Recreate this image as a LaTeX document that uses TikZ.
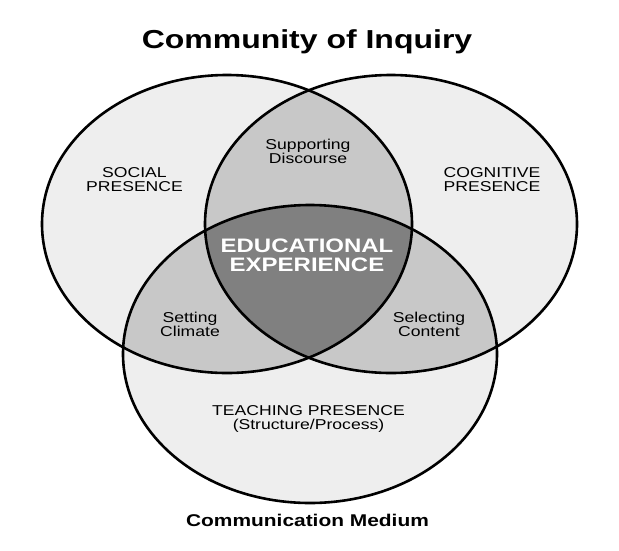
\documentclass[tikz,border=0pt]{standalone}
\usepackage{fontspec}
\setmainfont{Liberation Sans}[FakeStretch=1.23]
\definecolor{lightg}{HTML}{EEEEEE}
\definecolor{midg}{HTML}{C8C8C8}
\definecolor{darkg}{HTML}{808080}
\begin{document}
\begin{tikzpicture}[x=1pt,y=-1pt,
  lbl/.style={inner sep=0pt, align=center, font=\fontsize{14.3}{14}\selectfont},
  heavy/.style={inner sep=0pt, align=center, font=\fontsize{17}{20}\selectfont\bfseries},
  outline/.style={draw=black, line width=2.6pt}]
\useasboundingbox[fill=white] (0,0) rectangle (619,550);
\def\soc{(227,224) ellipse [x radius=185pt, y radius=149pt]}
\def\cog{(391,224) ellipse [x radius=186pt, y radius=149pt]}
\def\tea{(310,354) ellipse [x radius=187pt, y radius=149pt]}
% base fills
\fill[lightg] \soc;
\fill[lightg] \cog;
\fill[lightg] \tea;
% pairwise overlaps
\begin{scope}\clip \soc; \fill[midg] \cog; \fill[midg] \tea;\end{scope}
\begin{scope}\clip \cog; \fill[midg] \tea;\end{scope}
% triple overlap
\begin{scope}\clip \soc; \clip \cog; \fill[darkg] \tea;\end{scope}
% outlines
\draw[outline] \soc;
\draw[outline] \cog;
\draw[outline] \tea;
% texts
\node[inner sep=0pt, font=\fontsize{26}{30}\selectfont\bfseries] (title) at (307,42) {Community of Inquiry};
\node[lbl] (social) at (134.5,180) {SOCIAL\\PRESENCE};
\node[lbl] (cognitive) at (492,180) {COGNITIVE\\PRESENCE};
\node[lbl] (supporting) at (308,151) {Supporting\\Discourse};
\node[lbl] (setting) at (190,324) {Setting\\Climate};
\node[lbl] (selecting) at (429,324) {Selecting\\Content};
\node[lbl] (teaching) at (308.5,419) {TEACHING PRESENCE\\(Structure/Process)};
\node[inner sep=0pt, align=center, text=white, font=\fontsize{19.5}{19}\selectfont\bfseries] (edu) at (307,255) {EDUCATIONAL\\EXPERIENCE};
\node[heavy] (medium) at (307.5,520) {Communication Medium};
\end{tikzpicture}
\end{document}
